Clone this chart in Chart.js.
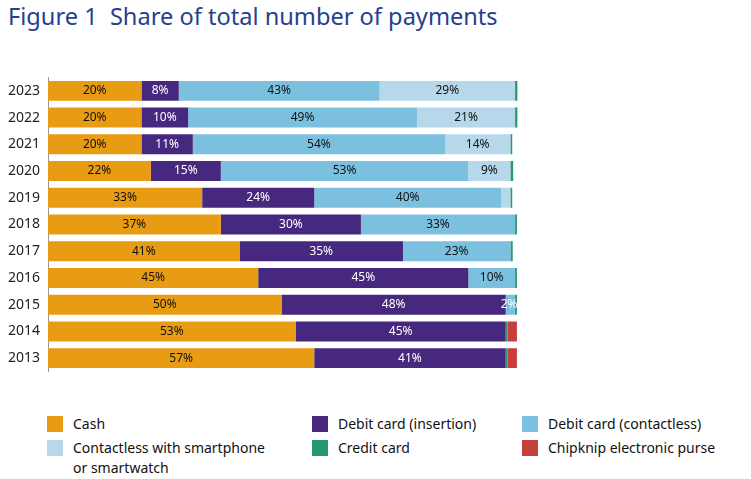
<!DOCTYPE html>
<html>
<head>
<meta charset="utf-8">
<script src="https://cdn.jsdelivr.net/npm/chart.js@4"></script>
<style>
  body { margin: 0; width: 751px; height: 479px; background: #fff; font-family: "Noto Sans", sans-serif; position: relative; overflow: hidden; }
  h1 { position: absolute; left: 8px; top: 0; margin: 0; font-weight: normal; font-size: 23.6px; color: #263f8e; }
  #wrap { position: absolute; left: 0; top: 61px; width: 530px; height: 327px; }
  .legend { position: absolute; top: 414px; left: 47px; width: 700px; font-size: 14px; color: #111; }
  .item { position: absolute; display: flex; line-height: 20px; }
  .sw { width: 16px; height: 16px; margin: 2px 10px 0 0; flex: none; }
</style>
</head>
<body>
<h1>Figure 1&nbsp; Share of total number of payments</h1>
<div id="wrap"><canvas id="grafico"></canvas></div>
<div class="legend" id="legenda"></div>
<script>
// ======== DADOS =========
const anos = ['2023', '2022', '2021', '2020', '2019', '2018', '2017', '2016', '2015', '2014', '2013'];
const cash        = [20, 20, 20, 22, 33, 37, 41, 45, 50, 53, 57];
const debitInsert = [8, 10, 11, 15, 24, 30, 35, 45, 48, 45, 41];
const debitContactless = [43, 49, 54, 53, 40, 33, 23, 10, 2, 0, 0];
const smartphone  = [29, 21, 14, 9, 2, 0, 0, 0, 0, 0, 0];
const credit      = [0.5, 0.5, 0.4, 0.6, 0.4, 0.4, 0.5, 0.4, 0.4, 0.4, 0.4];
const chipknip    = [0, 0, 0, 0, 0, 0, 0, 0, 0, 2, 2];

const series = [
  { label: 'Cash', data: cash, color: '#e89c14', text: '#111', min: 2 },
  { label: 'Debit card (insertion)', data: debitInsert, color: '#46287f', text: '#fff', min: 2 },
  { label: 'Debit card (contactless)', data: debitContactless, color: '#7cc0e0', text: '#111', min: 2 },
  { label: 'Contactless with smartphone\nor smartwatch', data: smartphone, color: '#b6d8ea', text: '#111', min: 3 },
  { label: 'Credit card', data: credit, color: '#27996a', text: '#111', min: 999 },
  { label: 'Chipknip electronic purse', data: chipknip, color: '#c63f3d', text: '#111', min: 999 }
];

// ======== RÓTULOS NAS BARRAS =========
const rotulos = {
  id: 'rotulos',
  afterDatasetsDraw(chart) {
    const ctx = chart.ctx;
    ctx.save();
    ctx.font = '12px "Noto Sans"';
    ctx.textAlign = 'center';
    ctx.textBaseline = 'middle';
    chart.data.datasets.forEach((ds, i) => {
      chart.getDatasetMeta(i).data.forEach((bar, j) => {
        const v = ds.data[j];
        if (v < series[i].min) return;
        const pequeno = (i === 2 && v <= 2);
        ctx.fillStyle = pequeno ? '#fff' : series[i].text;
        const x = pequeno ? bar.x - 6 : (bar.x + bar.base) / 2;
        ctx.fillText(v + '%', x, bar.y);
      });
    });
    ctx.restore();
  }
};

// ======== GRÁFICO =========
new Chart(document.getElementById('grafico'), {
  type: 'bar',
  data: {
    labels: anos,
    datasets: series.map(s => ({
      label: s.label,
      data: s.data,
      backgroundColor: s.color,
      barPercentage: 0.74,
      categoryPercentage: 1
    }))
  },
  options: {
    indexAxis: 'y',
    responsive: true,
    maintainAspectRatio: false,
    animation: false,
    layout: { padding: 0 },
    plugins: { legend: { display: false }, tooltip: { enabled: false } },
    scales: {
      x: { stacked: true, min: 0, max: 103.2, display: false },
      y: {
        stacked: true,
        grid: { display: false, drawTicks: false },
        border: { color: '#999', width: 1 },
        ticks: { color: '#222', font: { size: 14, family: 'Noto Sans' }, padding: 8 }
      }
    }
  },
  plugins: [rotulos]
});

// ======== LEGENDA =========
const pos = [[0, 0], [265, 0], [475, 0], [0, 24], [265, 24], [475, 24]];
const leg = document.getElementById('legenda');
series.forEach((s, i) => {
  const d = document.createElement('div');
  d.className = 'item';
  d.style.left = pos[i][0] + 'px';
  d.style.top = pos[i][1] + 'px';
  d.innerHTML = '<span class="sw" style="background:' + s.color + '"></span><span>' + s.label.replace('\n', '<br>') + '</span>';
  leg.appendChild(d);
});
</script>
</body>
</html>
